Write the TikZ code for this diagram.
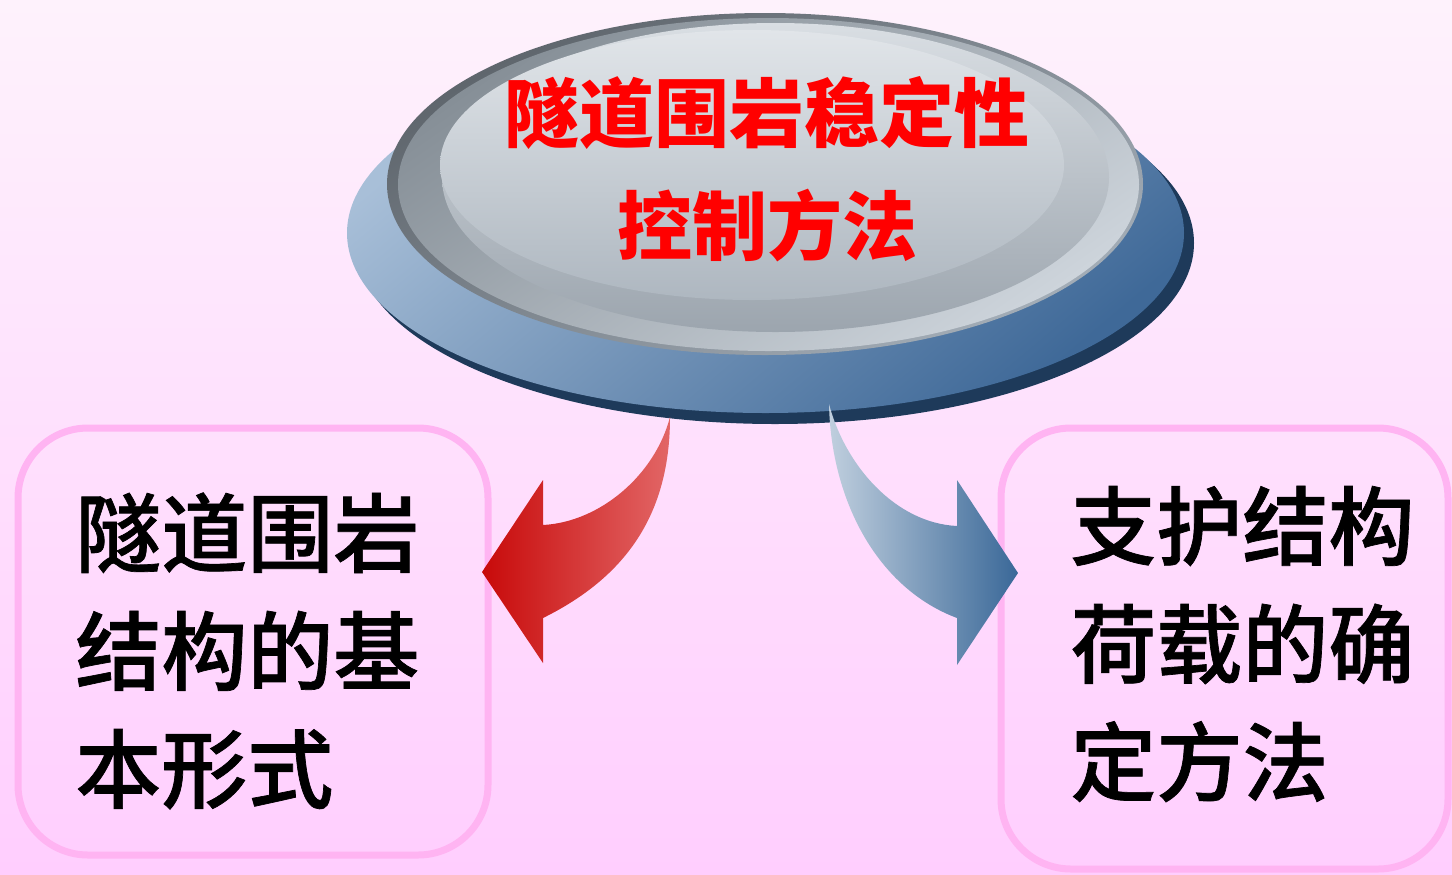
\documentclass[tikz,border=0pt]{standalone}
\usepackage{fontspec}
\newfontfamily\cjk{Noto Sans CJK SC}
\newfontfamily\cjkmed{Noto Sans CJK SC Medium}[FakeBold=0.8]
\usetikzlibrary{shapes.geometric}

\definecolor{bgtop}{HTML}{FEF2FC}
\definecolor{bgbot}{HTML}{FFCEFE}
\definecolor{boxline}{HTML}{FFB4F2}
\definecolor{titlered}{HTML}{FF0000}
\definecolor{discdark}{HTML}{1E3A5A}
\definecolor{disclight}{HTML}{A8BFD8}
\definecolor{discmid}{HTML}{3F6998}
\definecolor{rimdark}{HTML}{5E656C}
\definecolor{rimlight}{HTML}{A3ADB7}
\definecolor{banddark}{HTML}{868F97}
\definecolor{bandlight}{HTML}{CDD4DB}
\definecolor{facetop}{HTML}{D9DEE3}
\definecolor{facebot}{HTML}{9CA5AE}
\definecolor{coretop}{HTML}{E1E5E9}
\definecolor{corebot}{HTML}{AEB7C0}
\definecolor{redtip}{HTML}{C80A0A}
\definecolor{redtail}{HTML}{E26666}
\definecolor{bluetail}{HTML}{C0CFDE}
\definecolor{bluetip}{HTML}{3A6898}

\tikzset{
  framebox/.style={draw=boxline, line width=3.5pt, rounded corners=35pt},
  boxtext/.style={font=\cjkmed\fontsize{43}{59}\selectfont, align=left, inner sep=0pt, text=black},
  hubtext/.style={font=\cjk\bfseries\fontsize{37.5}{56.5}\selectfont, align=center, inner sep=0pt, text=titlered},
}

\begin{document}
\begin{tikzpicture}[x=0.5pt, y=-0.5pt]
  \useasboundingbox (0,0) rectangle (1452,874);
  % page background
  \shade[top color=bgtop, bottom color=bgbot] (0,0) rectangle (1452,874);

  % rounded frames of the two topics
  \draw[framebox] (18,428) rectangle (488,855);
  \draw[framebox] (1001,428) rectangle (1448,869);

  % blue base of the disc with its dark lower rim
  \fill[discdark] (775,243) ellipse [x radius=419, y radius=181];
  \shade[top color=disclight, bottom color=discmid, shading angle=40]
    (765.5,233) ellipse [x radius=418.5, y radius=180];

  % grey lid: outer rim, bevel band, face and core
  \shade[top color=rimdark, bottom color=rimlight, shading angle=30]
    (765,184) ellipse [x radius=378, y radius=171];
  \shade[top color=banddark, bottom color=bandlight, shading angle=35]
    (768.5,184.5) ellipse [x radius=370.5, y radius=166.5];
  \shade[top color=facetop, bottom color=facebot]
    (775.5,177.5) ellipse [x radius=333.5, y radius=154.5];
  \shade[top color=coretop, bottom color=corebot]
    (752,165) ellipse [x radius=312, y radius=135];

  \node[hubtext] (hub) at (767,169) {隧道围岩稳定性\\控制方法};

  % curved arrows leaving the disc
  \coordinate (ltop) at (670,417);
  \coordinate (ltip) at (482,572);
  \shade[left color=redtip, right color=redtail]
    (ltop) .. controls (655,475) and (600,522) .. (543,525)
    -- (543,480) -- (ltip) -- (543,663) -- (543,618)
    .. controls (630,575) and (670,510) .. (ltop) -- cycle;

  \coordinate (rtop) at (829,404);
  \coordinate (rtip) at (1018,573);
  \shade[left color=bluetail, right color=bluetip]
    (rtop) .. controls (845,465) and (895,523) .. (957,526)
    -- (957,480) -- (rtip) -- (957,665) -- (957,618)
    .. controls (877,588) and (831,500) .. (rtop) -- cycle;

  % topic texts
  \node[boxtext, anchor=west] (lefttopic) at (75,651)
    {隧道围岩\\结构的基\\本形式};
  \node[boxtext, anchor=west] (righttopic) at (1070,644)
    {支护结构\\荷载的确\\定方法};
\end{tikzpicture}
\end{document}
